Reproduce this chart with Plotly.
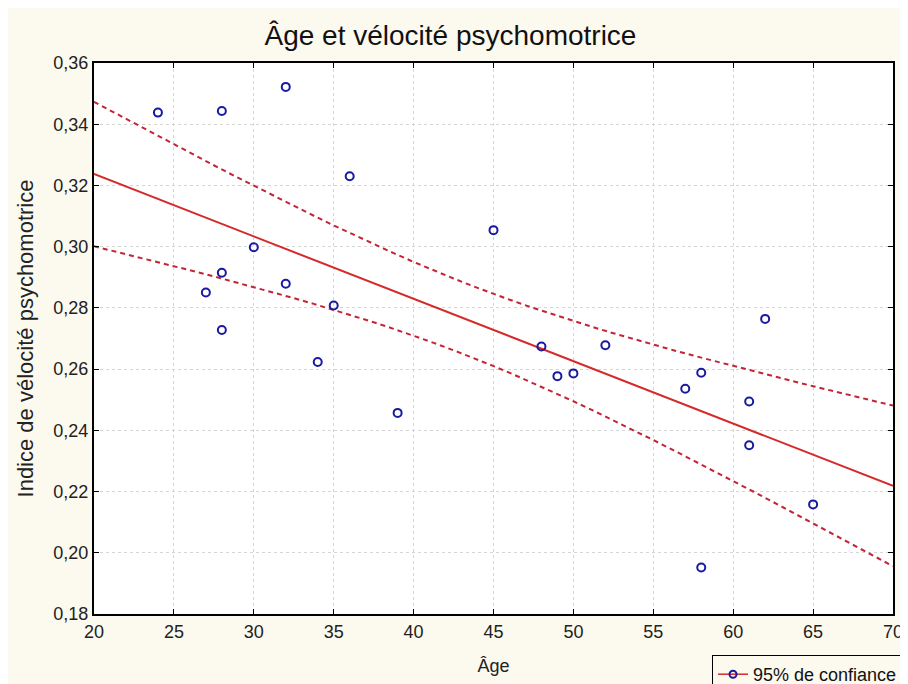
import numpy as np
import plotly.graph_objects as go

# Âge (années) et indice de vélocité psychomotrice
age = [24, 28, 32, 36, 30, 28, 27, 32, 35, 28, 34, 39,
       45, 48, 49, 50, 52, 57, 58, 61, 61, 62, 65, 58]
velocite = [0.3438, 0.3443, 0.3522, 0.3230, 0.2998, 0.2915, 0.2850, 0.2879,
            0.2808, 0.2728, 0.2623, 0.2457, 0.3054, 0.2674, 0.2577, 0.2586,
            0.2678, 0.2536, 0.2588, 0.2494, 0.2351, 0.2764, 0.2158, 0.1952]

x_ticks = [20, 25, 30, 35, 40, 45, 50, 55, 60, 65, 70]
y_ticks = [0.18, 0.20, 0.22, 0.24, 0.26, 0.28, 0.30, 0.32, 0.34, 0.36]

FONT = "Arial, Liberation Sans, sans-serif"
PAPER = "#fcf9ef"

# droite de régression + intervalle de confiance à 95 %
xa = np.array(age, dtype=float)
ya = np.array(velocite, dtype=float)
n = len(xa)
b, a = np.polyfit(xa, ya, 1)
resid = ya - (a + b * xa)
s = np.sqrt((resid ** 2).sum() / (n - 2))
sxx = ((xa - xa.mean()) ** 2).sum()
t = 2.0739  # t(0.975, 22)
xg = np.linspace(x_ticks[0], x_ticks[-1], 41)
yg = a + b * xg
half = t * s * np.sqrt(1 / n + (xg - xa.mean()) ** 2 / sxx)

fig = go.Figure()
red = "#d42a2a"
dashred = "#c42434"
fig.add_trace(go.Scatter(x=xg, y=yg, mode="lines", line=dict(color=red, width=2),
                         showlegend=False, hoverinfo="skip"))
fig.add_trace(go.Scatter(x=xg, y=yg + half, mode="lines",
                         line=dict(color=dashred, width=2, dash="5px,4px"),
                         showlegend=False, hoverinfo="skip"))
fig.add_trace(go.Scatter(x=xg, y=yg - half, mode="lines",
                         line=dict(color=dashred, width=2, dash="5px,4px"),
                         showlegend=False, hoverinfo="skip"))
fig.add_trace(go.Scatter(
    x=age, y=velocite, mode="markers",
    marker=dict(symbol="circle-open", size=8, color="#1a1aa0", line=dict(width=2)),
    showlegend=False,
))
# entrée de légende
fig.add_trace(go.Scatter(
    x=[None], y=[None], mode="lines+markers", name="95% de confiance",
    line=dict(color=red, width=1.5),
    marker=dict(symbol="circle-open", size=7, color="#1a1aa0", line=dict(width=2)),
))

axis_common = dict(
    showline=True, linecolor="black", linewidth=2, mirror="ticks",
    ticks="inside", ticklen=5, tickcolor="black", tickwidth=1,
    showgrid=True, gridcolor="#d6d6d6", griddash="dot", gridwidth=1,
    zeroline=False, tickfont=dict(size=18, color="#222"),
)

fig.update_layout(
    width=908, height=684,
    margin=dict(l=86, r=23, t=55, b=78, autoexpand=False),
    paper_bgcolor=PAPER, plot_bgcolor="white",
    font=dict(family=FONT, color="#222"),
    separators=", ",
    title=dict(text="Âge et vélocité psychomotrice", x=0.4873, xanchor="center",
               y=1 - 27 / 684, yanchor="middle", font=dict(size=28, color="#111")),
    xaxis=dict(range=[20, 70], tickvals=x_ticks,
               title=dict(text="Âge", font=dict(size=18), standoff=19), **axis_common),
    yaxis=dict(range=[0.18, 0.36], tickvals=y_ticks, tickformat=".2f",
               title=dict(text="Indice de vélocité psychomotrice", font=dict(size=22), standoff=14),
               **axis_common),
    legend=dict(x=0.7735, y=-0.0744, xanchor="left", yanchor="top",
                bgcolor=PAPER, bordercolor="black", borderwidth=1,
                itemwidth=30, font=dict(size=18, color="#111")),
)

fig.write_html("out.html")
